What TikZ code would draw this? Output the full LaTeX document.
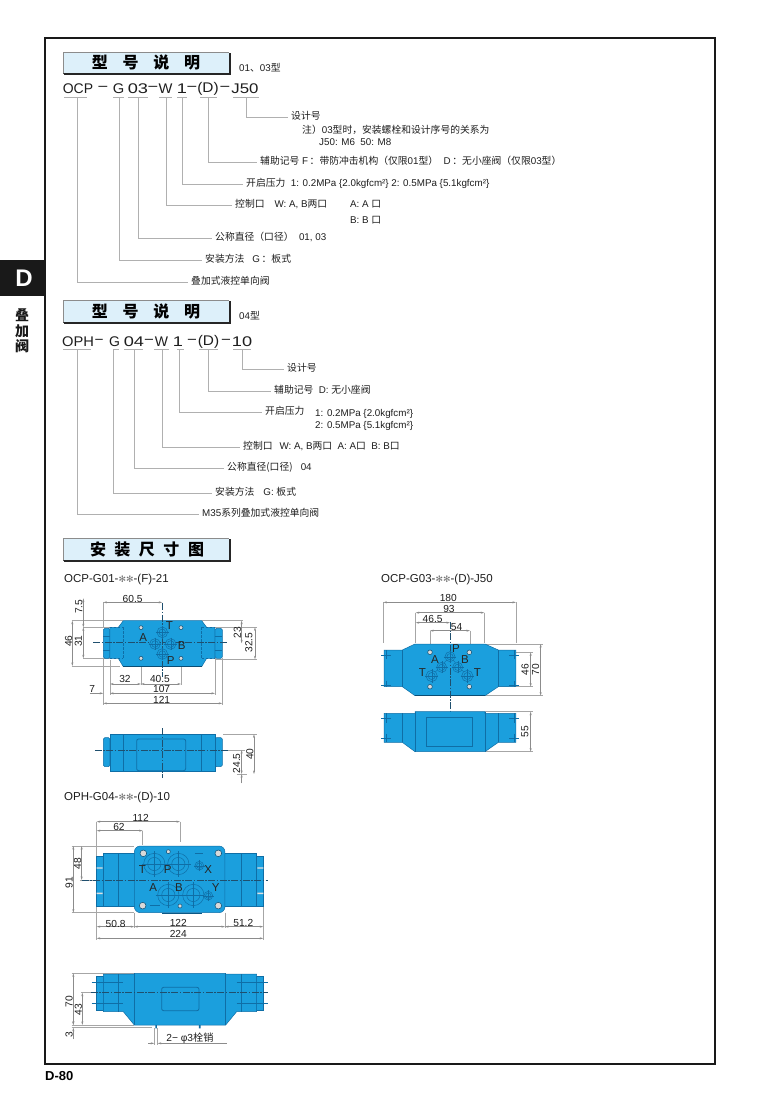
\documentclass[tikz,border=0pt]{standalone}
\usepackage{fontspec}
\usetikzlibrary{arrows.meta}
\setmainfont{Liberation Sans}
\newfontfamily\cjk{Noto Sans CJK SC}
\newfontfamily\djv{DejaVu Sans}
\newcommand\zh[1]{{\cjk #1}}
\newcommand\stars{{\djv\color{black!55}\fontsize{9}{9}\selectfont ✻✻}}
\definecolor{valve}{HTML}{1B9FDD}
\definecolor{valveline}{HTML}{0F6EA6}
\definecolor{lightbox}{HTML}{DDF0FA}
\definecolor{leadgray}{HTML}{B0B0B0}
\definecolor{ink}{HTML}{1E1E1E}
\definecolor{centergray}{HTML}{1F4F6E}
\newcount\nodeno
\tikzset{
 leader/.style={draw=leadgray,line width=1pt},
 calltext/.style={font=\fontsize{9.8}{11}\selectfont,text=ink,inner xsep=3pt,inner ysep=0pt,text height=7.5pt,text depth=2pt,anchor=west},
 modeltext/.style={font=\fontsize{14}{14}\selectfont,text=ink,inner sep=0pt,transform shape},
 titletext/.style={font=\cjk\bfseries\fontsize{16}{16}\selectfont,text=black,inner sep=0pt},
 headtext/.style={font=\fontsize{11.5}{13}\selectfont,text=ink,inner sep=0pt,anchor=west},
 dimln/.style={draw=black!45,line width=.45pt,{Stealth[length=3.6pt,width=2pt]}-{Stealth[length=3.6pt,width=2pt]}},
 dimone/.style={draw=black!45,line width=.45pt,-{Stealth[length=3.6pt,width=2pt]}},
 extln/.style={draw=black!35,line width=.45pt},
 dimlab/.style={font=\fontsize{10.2}{11}\selectfont,text=ink,inner sep=0pt},
 portlab/.style={font=\fontsize{11.5}{12}\selectfont,text=black!85,inner sep=0pt},
 centerln/.style={draw=centergray,line width=.4pt,dash pattern=on 7pt off 1.5pt on 1.5pt off 1.5pt},
 bodyshape/.style={fill=valve,draw=valveline,line width=.5pt},
 inner/.style={draw=valveline,line width=.5pt},
 hidden/.style={draw=valveline,line width=.4pt,dash pattern=on 2.5pt off 1.5pt},
}
\newcommand\callout[6]{%
 \coordinate (#1s) at (#2,#3);
 \node[calltext] (#1) at (#5,#4) {#6};
 \draw[leader] (#1s) |- (#1.west);
}
\newcommand\under[3]{\coordinate (ua) at (#1,#3);\coordinate (ub) at (#2,#3);\draw[leader] (ua) -- (ub);}
\newcommand\model[4]{\global\advance\nodeno by 1 \node[modeltext,xscale=#3] (m\the\nodeno) at (#1,#2) {#4};}
\newcommand\titlebox[5]{%
 \fill[black!85] (64,#2+1) rectangle (231,#3+1.5);
 \fill[black!70] (62.5,#2+2) rectangle (64,#3+1);
 \fill[lightbox] (63.5,#2) rectangle (229,#3);
 \draw[black!45,line width=.5pt] (63.5,#3) |- (229,#2);
 \node[titletext] (#1) at (#4,#2/2+#3/2) {#5};
}
\newcommand\dH[3]{\draw[dimln] (#1,#3) -- (#2,#3);}
\newcommand\dV[3]{\draw[dimln] (#3,#1) -- (#3,#2);}
\newcommand\eH[3]{\draw[extln] (#1,#3) -- (#2,#3);}
\newcommand\eV[3]{\draw[extln] (#3,#1) -- (#3,#2);}
\newcommand\lb[3]{\global\advance\nodeno by 1 \node[dimlab] (l\the\nodeno) at (#1,#2) {#3};}
\newcommand\lv[3]{\global\advance\nodeno by 1 \node[dimlab,rotate=90] (l\the\nodeno) at (#1,#2) {#3};}
\newcommand\pl[3]{\global\advance\nodeno by 1 \node[portlab] (p\the\nodeno) at (#1,#2) {#3};}
\newcommand\port[3]{%
 \draw[inner,fill=valve] (#1,#2) circle[radius=#3];
 \draw[inner] (#1,#2) circle[radius=#3*.62];
 \draw[inner,line width=.3pt] (#1,#2-#3*1.2) -- (#1,#2+#3*1.2) (#1-#3*1.2,#2) -- (#1+#3*1.2,#2);
}
\newcommand\screw[3]{\draw[draw=valveline!70!black,line width=.5pt,fill=black!15] (#1,#2) circle[radius=#3];}
\begin{document}
\begin{tikzpicture}[x=1pt,y=-1pt]
\useasboundingbox (0,0) rectangle (780,1103);
\fill[white] (0,0) rectangle (780,1103);
% page frame and tab
\draw[black!90,line width=1.9pt] (45,38) rectangle (715,1064);
\fill[black!90] (0,260) rectangle (45,296);
\node[font=\bfseries\fontsize{24}{24}\selectfont,text=white,inner sep=0pt] (tabD) at (24,278) {D};
\node[font=\cjk\bfseries\fontsize{14}{16}\selectfont,text=black!90,align=center,inner sep=0pt] (tabT) at (22,331) {叠\\[-.5pt]加\\[-.5pt]阀};
\node[font=\bfseries\fontsize{13}{13}\selectfont,text=black,inner sep=0pt,anchor=west] (pageno) at (45,1076) {D-80};
%
% ---------- model 1
\titlebox{t1}{52}{73}{146}{型\hspace{14.7pt}号\hspace{14.7pt}说\hspace{14.7pt}明}
\node[calltext,inner xsep=0pt] (t1s) at (239,69) {01\zh{、}03\zh{型}};
\model{78}{89}{1.0}{OCP}
\model{103}{89}{1.3}{−}
\model{118.5}{89}{1.05}{G}
\model{138}{89}{1.3}{03}
\model{153}{89}{1.3}{−}
\model{165.5}{89}{1.05}{W}
\model{182}{89}{1.3}{1}
\model{192}{89}{1.3}{−}
\model{208}{89}{1.1}{(D)}
\model{225}{89}{1.3}{−}
\model{245}{89}{1.2}{J50}
\under{64}{87}{97.5}
\under{113}{124}{97.5}
\under{128}{148}{97.5}
\under{159}{172}{97.5}
\under{177}{187}{97.5}
\under{200}{217}{97.5}
\under{233}{259}{97.5}
\callout{a1}{246}{98}{117}{288}{\zh{设计号}}
\node[calltext,inner xsep=0pt] (a1n) at (302,131) {\zh{注）}03\zh{型时，安装螺栓和设计序号的关系为}};
\node[calltext,inner xsep=0pt] (a1m) at (319,143) {J50: M6\ \ 50: M8};
\callout{a2}{208}{98}{162}{257}{\zh{辅助记号} F\,\zh{：带防冲击机构（仅限}01\zh{型）}\ \ D\,\zh{：无小座阀（仅限}03\zh{型）}}
\callout{a3}{182}{98}{184}{243}{\zh{开启压力}\ \ 1: 0.2MPa {\{}2.0kgfcm²{\}} 2: 0.5MPa {\{}5.1kgfcm²{\}}}
\callout{a4}{166}{98}{205}{232}{\zh{控制口}\hspace{10pt}W: A, B\zh{两口}}
\node[calltext,inner xsep=0pt] (a4a) at (350,205) {A: A \zh{口}};
\node[calltext,inner xsep=0pt] (a4b) at (350,221) {B: B \zh{口}};
\callout{a5}{138}{98}{238}{212}{\zh{公称直径（口径）}\ \ 01, 03}
\callout{a6}{119}{98}{260}{202}{\zh{安装方法}\hspace{8pt}G\,\zh{：板式}}
\callout{a7}{77}{98}{282}{188}{\zh{叠加式液控单向阀}}
%
% ---------- model 2
\titlebox{t2}{300}{322}{146}{型\hspace{14.7pt}号\hspace{14.7pt}说\hspace{14.7pt}明}
\node[calltext,inner xsep=0pt] (t2s) at (239,317) {04\zh{型}};
\model{78}{342}{1.05}{OPH}
\model{99}{342}{1.1}{−}
\model{114.5}{342}{1.0}{G}
\model{134}{342}{1.3}{04}
\model{149}{342}{1.2}{−}
\model{161.5}{342}{1.0}{W}
\model{178}{342}{1.3}{1}
\model{192}{342}{1.2}{−}
\model{208.5}{342}{1.1}{(D)}
\model{226}{342}{1.2}{−}
\model{242}{342}{1.3}{10}
\under{63}{91}{349}
\under{113}{119}{349}
\under{124}{143}{349}
\under{154}{169}{349}
\under{177}{184}{349}
\under{199}{218}{349}
\under{233}{251}{349}
\callout{b1}{242}{349.5}{369}{284}{\zh{设计号}}
\callout{b2}{208}{349.5}{391}{271}{\zh{辅助记号}\ \ D: \zh{无小座阀}}
\callout{b3}{179}{349.5}{412}{262}{\zh{开启压力}}
\node[calltext,inner xsep=0pt] (b3a) at (315,414) {1: 0.2MPa {\{}2.0kgfcm²{\}}};
\node[calltext,inner xsep=0pt] (b3b) at (315,426) {2: 0.5MPa {\{}5.1kgfcm²{\}}};
\callout{b4}{162}{349.5}{447}{240}{\zh{控制口}\hspace{7pt}W: A, B\zh{两口}\ \ A: A\zh{口}\ \ B: B\zh{口}}
\callout{b5}{134}{349.5}{468}{224}{\zh{公称直径(口径)}\ \ \ 04}
\callout{b6}{113}{349.5}{493}{212}{\zh{安装方法}\hspace{9pt}G: \zh{板式}}
\callout{b7}{77}{349.5}{514}{199}{M35\zh{系列叠加式液控单向阀}}
%
\titlebox{t3}{538}{560}{147}{安\hspace{8.5pt}装\hspace{8.5pt}尺\hspace{8.5pt}寸\hspace{8.5pt}图}
%
\node[headtext] (h1) at (64,580) {OCP-G01-\stars-(F)-21};
\node[headtext] (h2) at (381,580) {OCP-G03-\stars-(D)-J50};
\node[headtext] (h3) at (64,798) {OPH-G04-\stars-(D)-10};
%
% ---------- drawing 1
\begin{scope}[shift={(55,570)},x=.3333pt,y=-.3333pt]
 % extension lines
 \eH{50}{205}{152}\eH{85}{165}{172}\eH{85}{165}{265}\eH{50}{195}{288}
 \eV{97}{170}{145}\eV{265}{405}{145}\eV{270}{375}{165}\eV{265}{345}{258}\eV{265}{345}{378}\eV{265}{375}{480}\eV{265}{405}{502}
 \eH{440}{565}{152}\eH{480}{605}{172}\eH{480}{605}{268}
 % body
 \draw[bodyshape,rounded corners=1.5pt] (145,175) -- (165,175) -- (165,265) -- (145,265) -- cycle;
 \draw[bodyshape,rounded corners=1.5pt] (480,175) -- (502,175) -- (502,265) -- (480,265) -- cycle;
 \draw[bodyshape] (205,152) -- (440,152) -- (455,172) -- (480,172) -- (480,265) -- (455,265) -- (440,290) -- (205,290) -- (190,265) -- (165,265) -- (165,172) -- (190,172) -- cycle;
 \draw[line width=.9pt,valveline!70!black] (205,290) -- (440,290);
 \draw[hidden] (205,172) -- (205,265) (440,172) -- (440,265) (165,172) -- (205,172) (165,265) -- (205,265) (440,172) -- (480,172) (440,265) -- (480,265);
 \draw[inner] (145,198) -- (165,198) (145,240) -- (165,240) (480,198) -- (502,198) (480,240) -- (502,240);
 \draw[centerln] (115,218) -- (520,218) (322,100) -- (322,320);
 \port{322}{187}{16}\port{300}{222}{16}\port{347}{222}{16}\port{322}{252}{16}
 \screw{258}{173}{6}\screw{378}{173}{6}\screw{258}{265}{6}\screw{378}{265}{6}
 \pl{343}{168}{T}\pl{265}{203}{A}\pl{380}{228}{B}\pl{347}{272}{P}
 % dimensions
 \dH{145}{322}{97}\lb{233}{87}{60.5}
 \dV{85}{172}{85}\lv{72}{110}{7.5}
 \dV{152}{288}{52}\lv{41}{213}{46}
 \dV{172}{265}{85}\lv{70}{213}{31}
 \dV{152}{220}{560}\lv{547}{188}{23}
 \dV{172}{268}{600}\lv{582}{218}{32.5}
 \dH{165}{258}{342}\lb{210}{328}{32}
 \dH{258}{378}{342}\lb{315}{328}{40.5}
 \dH{165}{480}{370}\lb{320}{357}{107}
 \draw[dimone] (105,370) -- (145,370);\lb{112}{357}{7}
 \dH{145}{502}{400}\lb{320}{390}{121}
 % lower view
 \eH{505}{605}{493}\eH{545}{575}{612}\eH{480}{570}{540}
 \draw[bodyshape,rounded corners=1.5pt] (145,503) rectangle (165,590);
 \draw[bodyshape,rounded corners=1.5pt] (480,503) rectangle (502,590);
 \draw[bodyshape] (165,493) rectangle (480,605);
 \draw[inner] (205,493) -- (205,605) (440,493) -- (440,605);
 \draw[inner,rounded corners=2pt,line width=.8pt] (245,507) rectangle (392,602);
 \draw[centerln] (120,540) -- (520,540) (322,475) -- (322,625);
 \dV{493}{612}{597}\lv{585}{553}{40}
 \dV{540}{612}{560}\lv{545}{580}{24.5}
 \draw[dimone] (560,640) -- (560,612);
\end{scope}
%
% ---------- drawing 2
\begin{scope}[shift={(370,570)},x=.3333pt,y=-.3333pt]
 \eV{97}{218}{40}\eV{97}{218}{438}\eV{128}{218}{137}\eV{128}{218}{343}\eV{182}{235}{180}\eV{182}{235}{300}
 \eH{345}{520}{222}\eH{300}{490}{247}\eH{300}{490}{350}\eH{170}{520}{377}
 \draw[bodyshape] (135,222) -- (345,222) -- (385,240) -- (438,240) -- (438,350) -- (385,350) -- (345,377) -- (135,377) -- (97,350) -- (42,350) -- (42,240) -- (97,240) -- cycle;
 \draw[inner] (97,240) -- (97,350) (385,240) -- (385,350);
 \draw[line width=.9pt,valveline!70!black] (135,377) -- (345,377);
 \draw[inner] (34,255) -- (62,255) (34,345) -- (62,345) (48,240) -- (48,268) (48,332) -- (48,350)
   (418,255) -- (446,255) (418,345) -- (446,345) (432,240) -- (432,268) (432,332) -- (432,350);
 \draw[centerln] (240,155) -- (240,515);
 \draw[inner,line width=.35pt] (185,318) -- (240,260) -- (292,318);
 \port{240}{260}{15}\port{215}{292}{15}\port{263}{292}{15}\port{185}{318}{17}\port{292}{318}{17}
 \screw{180}{247}{7}\screw{298}{247}{7}\screw{180}{350}{7}\screw{298}{350}{7}
 \pl{258}{235}{P}\pl{195}{268}{A}\pl{285}{268}{B}\pl{157}{308}{T}\pl{322}{308}{T}
 \dH{40}{438}{97}\lb{235}{83}{180}
 \dH{137}{343}{128}\lb{237}{117}{93}
 \dH{137}{240}{158}\lb{188}{148}{46.5}
 \dH{180}{300}{182}\lb{260}{170}{54}
 \dV{247}{350}{482}\lv{465}{300}{46}
 \dV{222}{377}{512}\lv{497}{300}{70}
 % lower view
 \eH{345}{490}{425}\eH{345}{490}{545}
 \draw[bodyshape] (135,425) -- (345,425) -- (345,430) -- (438,430) -- (438,517) -- (385,517) -- (345,545) -- (135,545) -- (97,517) -- (42,517) -- (42,430) -- (135,430) -- cycle;
 \draw[inner] (97,430) -- (97,517) (385,430) -- (385,517) (135,425) -- (135,545) (345,425) -- (345,545);
 \draw[inner,line width=.8pt] (170,443) rectangle (308,530);
 \draw[inner] (34,445) -- (62,445) (34,505) -- (62,505) (48,430) -- (48,458) (48,492) -- (48,517)
   (418,445) -- (446,445) (418,505) -- (446,505) (432,430) -- (432,458) (432,492) -- (432,517);
 \dV{425}{545}{482}\lv{465}{485}{55}
\end{scope}
%
% ---------- drawing 3
\begin{scope}[shift={(55,790)},x=.3333pt,y=-.3333pt]
 \eV{95}{200}{125}\eV{122}{165}{263}\eV{95}{157}{375}
 \eH{50}{238}{168}\eH{50}{238}{368}\eH{75}{125}{270}
 \eV{350}{450}{125}\eV{368}{415}{238}\eV{368}{415}{510}\eV{350}{450}{625}
 \draw[bodyshape] (125,200) rectangle (145,350);
 \draw[bodyshape] (605,200) rectangle (625,350);
 \draw[bodyshape] (145,190) rectangle (605,350);
 \draw[bodyshape,rounded corners=6pt] (238,168) rectangle (510,368);
 \fill[valveline!80!black] (320,368) rectangle (440,372);
 \draw[inner] (190,190) -- (190,350) (560,190) -- (560,350);
 \fill[black!12] (125,232) rectangle (143,236) (125,308) rectangle (143,312) (607,232) rectangle (625,236) (607,308) rectangle (625,312);
 \draw[centerln] (80,270) -- (640,270);
 \port{298}{222}{32}\port{370}{222}{32}\port{340}{315}{32}\port{415}{315}{32}
 \port{433}{227}{13}\port{460}{317}{13}
 \screw{265}{190}{10}\screw{490}{190}{10}\screw{263}{347}{10}\screw{490}{347}{10}
 \screw{340}{185}{6}\screw{375}{348}{6}
 \draw[inner,line width=.35pt] (285,347) -- (315,347) (420,190) -- (445,190);
 \pl{262}{238}{T}\pl{338}{238}{P}\pl{460}{238}{X}\pl{295}{293}{A}\pl{372}{293}{B}\pl{482}{293}{Y}
 \dH{125}{375}{95}\lb{257}{85}{112}
 \dH{125}{263}{122}\lb{192}{110}{62}
 \dV{168}{270}{80}\lv{68}{220}{48}
 \dV{168}{368}{55}\lv{42}{278}{91}
 \dH{125}{238}{410}\lb{182}{402}{50.8}
 \dH{238}{510}{410}\lb{370}{400}{122}
 \dH{510}{625}{410}\lb{565}{400}{51.2}
 \dH{125}{625}{445}\lb{370}{433}{224}
\end{scope}
%
% ---------- drawing 3 lower view
\begin{scope}[shift={(55,950)},x=.3333pt,y=-.3333pt]
 \eH{50}{238}{70}\eH{78}{108}{128}\eH{50}{238}{225}\eH{50}{290}{233}
 \draw[bodyshape] (125,80) rectangle (145,180);
 \draw[bodyshape] (605,80) rectangle (625,180);
 \draw[bodyshape] (238,70) -- (512,70) -- (512,72) -- (605,72) -- (605,185) -- (545,185) -- (512,225) -- (238,225) -- (205,185) -- (145,185) -- (145,72) -- (238,72) -- cycle;
 \draw[inner] (190,72) -- (190,185) (560,72) -- (560,185) (238,70) -- (238,225) (512,70) -- (512,225);
 \draw[inner,rounded corners=2pt,line width=.8pt] (320,112) rectangle (432,182);
 \draw[inner,line width=.35pt] (110,97) -- (205,97) (110,160) -- (205,160) (545,97) -- (640,97) (545,160) -- (640,160);
 \draw[centerln] (108,128) -- (640,128);
 \fill[valveline] (301,225) rectangle (306,235) (432,225) rectangle (437,235);
 \dV{70}{225}{55}\lv{42}{155}{70}
 \dV{128}{225}{82}\lv{70}{178}{43}
 \draw[dimone] (55,268) -- (55,233);\draw[dimone] (55,205) -- (55,225);
 \lv{42}{255}{3}
 \eV{235}{285}{298}\eV{235}{285}{308}
 \draw[dimone] (280,280) -- (298,280);\draw[dimone] (515,280) -- (308,280);
 \lb{405}{265}{2− φ3\zh{栓销}}
\end{scope}
\end{tikzpicture}
\end{document}
